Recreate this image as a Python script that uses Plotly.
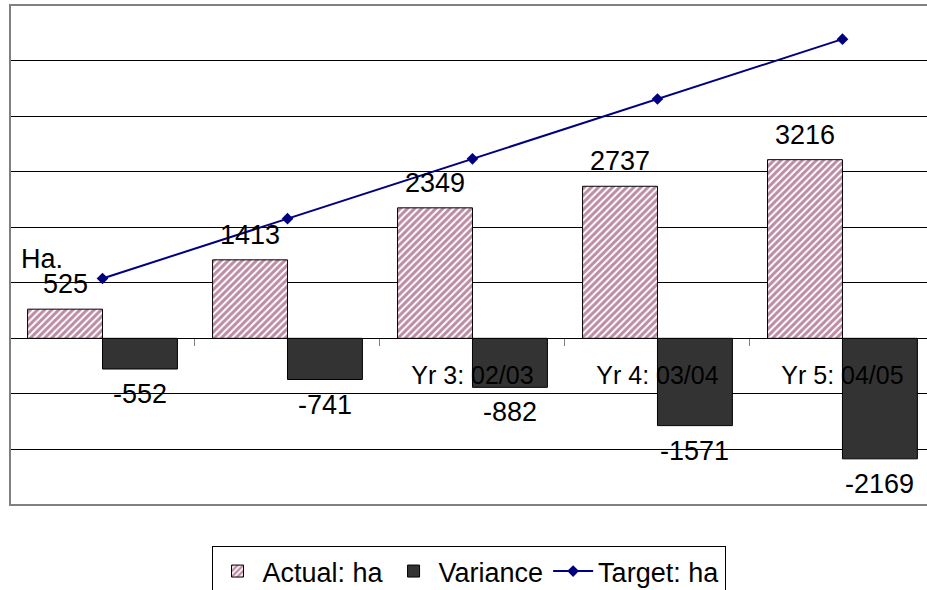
import plotly.graph_objects as go

categories = ["Yr 1: 00/01", "Yr 2: 01/02", "Yr 3: 02/03", "Yr 4: 03/04", "Yr 5: 04/05"]
tick_labels = ["", "", "Yr 3: 02/03", "Yr 4: 03/04", "Yr 5: 04/05"]
actual_ha = [525, 1413, 2349, 2737, 3216]
variance = [-552, -741, -882, -1571, -2169]
target_ha = [1077, 2154, 3231, 4308, 5385]

FONT = "Liberation Sans, Arial, sans-serif"

fig = go.Figure()
fig.add_trace(go.Bar(
    name="Actual: ha", x=categories, y=actual_ha,
    marker=dict(color="white", line=dict(color="black", width=1),
                pattern=dict(shape="/", fgcolor="#7a1a4a", bgcolor="white",
                             size=5, solidity=0.6, fillmode="overlay")),
))
fig.add_trace(go.Bar(
    name="Variance", x=categories, y=variance,
    marker=dict(color="#333333", line=dict(color="black", width=1)),
))
fig.add_trace(go.Scatter(
    name="Target: ha", x=categories, y=target_ha, mode="lines+markers",
    line=dict(color="#000080", width=2),
    marker=dict(symbol="diamond", size=9, color="#000080"),
))

annotations = []
for c, v in zip(categories, actual_ha):
    annotations.append(dict(x=c, y=v, xref="x", yref="y", text=str(v), showarrow=False,
                            xshift=-37.5, yanchor="bottom", yshift=8,
                            font=dict(size=27, color="black", family=FONT)))
for c, v in zip(categories, variance):
    annotations.append(dict(x=c, y=v, xref="x", yref="y", text=str(v), showarrow=False,
                            xshift=37.5, yanchor="top", yshift=-8,
                            font=dict(size=27, color="black", family=FONT)))
annotations.append(dict(x=0.01, y=0.458, xref="paper", yref="paper", text="Ha.",
                        showarrow=False, xanchor="left", yanchor="bottom",
                        font=dict(size=27, color="black", family=FONT)))

fig.update_layout(
    width=927, height=590,
    margin=dict(l=10, r=0, t=5, b=85, autoexpand=False),
    paper_bgcolor="white", plot_bgcolor="white",
    barmode="group", bargap=0.19, bargroupgap=0,
    font=dict(family=FONT, color="black"),
    showlegend=True,
    legend=dict(orientation="h", x=0.5, xanchor="center", y=-0.082, yanchor="top",
                bordercolor="black", borderwidth=1, bgcolor="white",
                font=dict(size=27, family=FONT, color="black"),
                itemwidth=40, traceorder="normal"),
    annotations=annotations,
    hovermode=False,
    xaxis=dict(type="category", range=[-0.5, 4.457], anchor="free", position=1/3,
               tickvals=categories, ticktext=tick_labels,
               ticks="outside", ticklen=7, tickcolor="#808080", tickson="boundaries",
               showline=False, showgrid=False, zeroline=False,
               ticklabelstandoff=20, automargin=False,
               tickfont=dict(size=25, family=FONT, color="black")),
    yaxis=dict(range=[-3000, 6000], dtick=1000, showgrid=True, gridcolor="black", gridwidth=1,
               zeroline=True, zerolinecolor="black", zerolinewidth=1, automargin=False,
               showticklabels=False, ticks=""),
    shapes=[
        dict(type="rect", xref="paper", yref="paper", x0=0, x1=1.05, y0=0, y1=1,
             line=dict(color="#808080", width=2), layer="above"),
    ],
)

fig.write_html("out.html", config={"displayModeBar": False, "staticPlot": True},
               post_script="document.body.style.margin='0';document.body.style.overflow='hidden';")
